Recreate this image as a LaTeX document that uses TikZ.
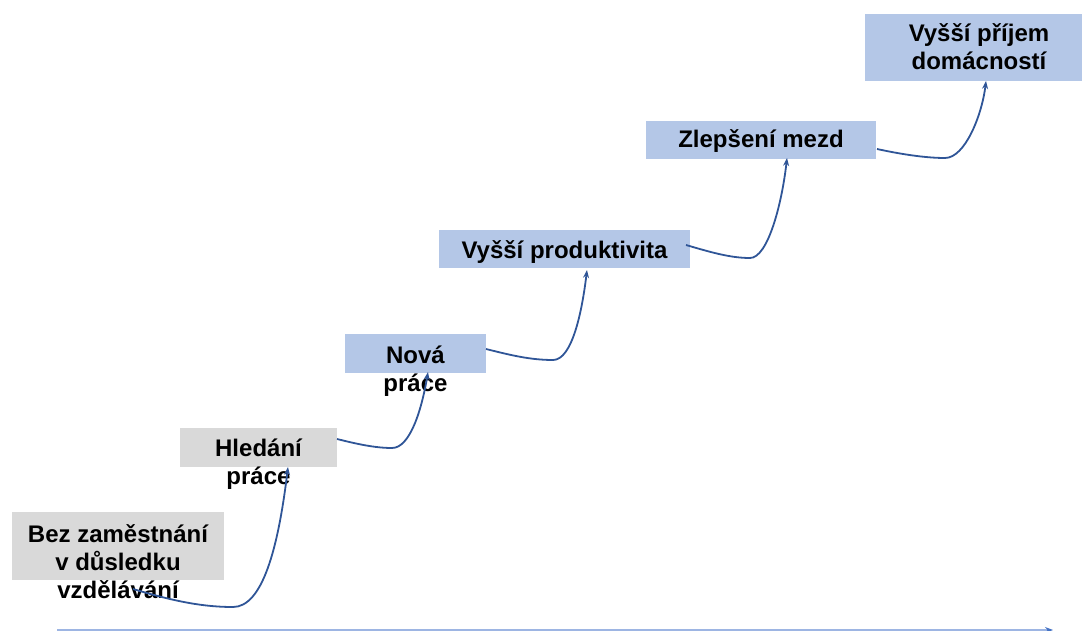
\documentclass[tikz,border=0pt]{standalone}
\usepackage{fontspec}
\setmainfont{Liberation Sans}
\usetikzlibrary{arrows.meta,calc}
\newdimen\pxu \pxu=0.75pt
\definecolor{boxgray}{HTML}{D9D9D9}
\definecolor{boxblue}{HTML}{B4C7E7}
\definecolor{linkblue}{HTML}{2F5597}
\definecolor{axisblue}{HTML}{9DB5E3}
\definecolor{axistip}{HTML}{4472C4}
\begin{document}
\begin{tikzpicture}[x=0.75pt,y=-0.75pt,
 box/.style={rectangle, inner sep=0pt, outer sep=0pt, draw=none},
 graybox/.style={box, fill=boxgray},
 bluebox/.style={box, fill=boxblue},
 lbl/.style={font=\bfseries\fontsize{18pt}{21pt}\selectfont, align=center, inner sep=0pt, anchor=base},
 link/.style={draw=linkblue, line width=1.35pt, -{Stealth[length=6pt,width=4.5pt]}},
 axis/.style={draw=axisblue, line width=0.9pt, -{Stealth[length=6pt,width=4.5pt,color=axistip]}},
]
\useasboundingbox (0,0) rectangle (1082,631);

% boxes
\node[graybox, minimum width=212\pxu, minimum height=68\pxu] (b1) at (118,546) {};
\node[graybox, minimum width=157\pxu, minimum height=39\pxu] (b2) at (258.5,447.5) {};
\node[bluebox, minimum width=141\pxu, minimum height=39\pxu] (b3) at (415.5,353.5) {};
\node[bluebox, minimum width=251\pxu, minimum height=38\pxu] (b4) at (564.5,249) {};
\node[bluebox, minimum width=230\pxu, minimum height=38\pxu] (b5) at (761,140) {};
\node[bluebox, minimum width=228\pxu, minimum height=67\pxu] (b6) at (979,47.5) {};

% texts (base anchor = baseline of the last line)
\node[lbl] (t1) at (118,598) {Bez zaměstnání\\v důsledku\\vzdělávání};
\node[lbl] (t2) at (258.5,484) {Hledání\\práce};
\node[lbl] (t3) at (415.5,391) {Nová\\práce};
\node[lbl] (t4) at (564.5,258) {Vyšší produktivita};
\node[lbl] (t5) at (761,148) {Zlepšení mezd};
\node[lbl] (t6) at (979,69.5) {Vyšší příjem\\domácností};

% connectors
\coordinate (s1) at (133,589);
\draw[link] (s1) .. controls (170,600) and (200,607) .. (233,607)
  .. controls (262,607) and (278,550) .. ($(b2.south)+(29.5,0)$);
\draw[link] ($(b2.east)+(0,-8.5)$) .. controls (357,444) and (375,448) .. (392,448)
  .. controls (410,448) and (421.6,410) .. ($(b3.south)+(12.5,-1)$);
\draw[link] ($(b3.east)+(0,-4.5)$) .. controls (510,355) and (530,360) .. (553,360)
  .. controls (572,360) and (582,312) .. ($(b4.south)+(22.5,2)$);
\draw[link] ($(b4.east)+(-4,-4)$) .. controls (710,252) and (730,258) .. (750,258)
  .. controls (768,258) and (782,203) .. ($(b5.south)+(26,-1)$);
\draw[link] ($(b5.east)+(1,9)$) .. controls (900,154) and (925,158) .. (945,158)
  .. controls (965,158) and (982,115) .. ($(b6.south)+(7,0)$);

% axis
\coordinate (a0) at (57,630);
\coordinate (a1) at (1053,630);
\draw[axis] (a0) -- (a1);
\end{tikzpicture}
\end{document}
